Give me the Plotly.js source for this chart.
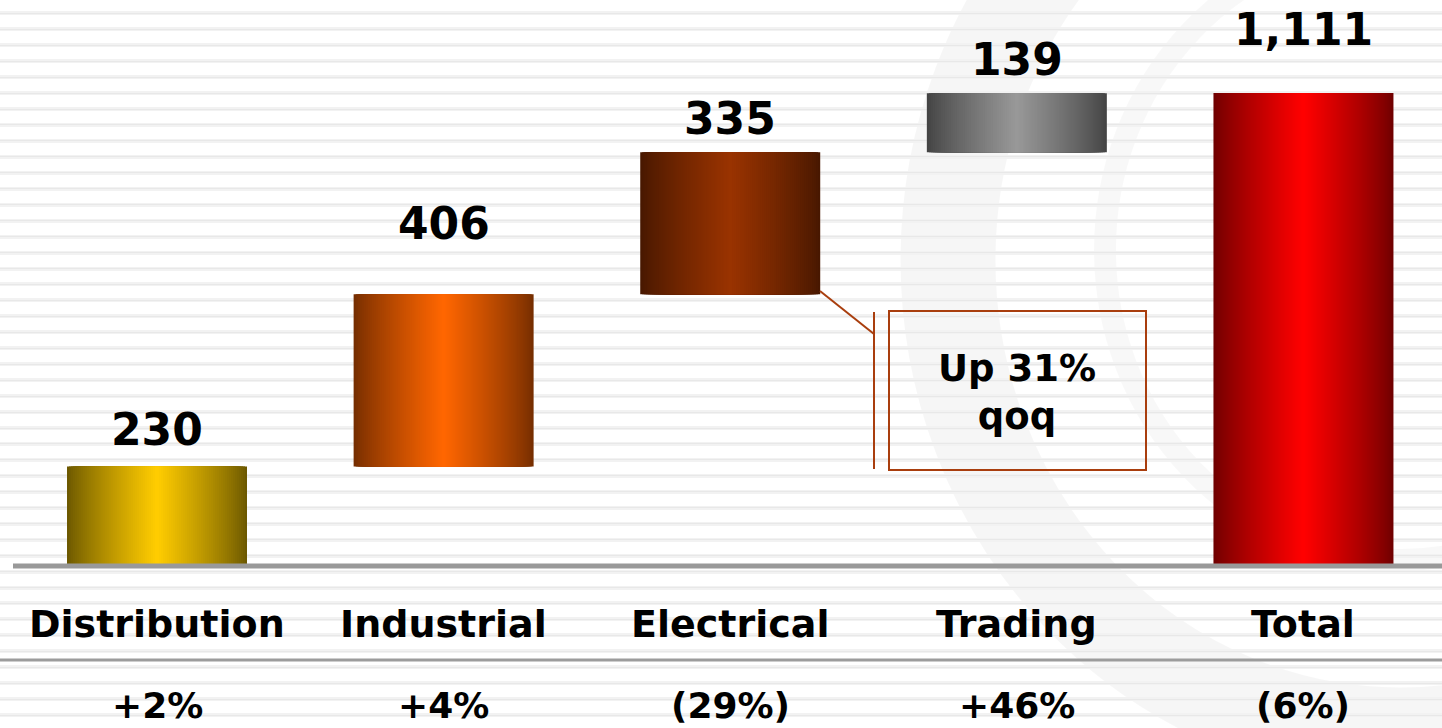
<!DOCTYPE html>
<html>
<head>
<meta charset="utf-8">
<script src="https://cdn.plot.ly/plotly-3.0.1.min.js"></script>
<style>
  html, body { margin: 0; padding: 0; background: #ffffff; }
  #chart { width: 1442px; height: 728px; }
</style>
</head>
<body>
<div id="chart"></div>
<script>
// ---- data ----
const categories = ['Distribution', 'Industrial', 'Electrical', 'Trading', 'Total'];
const values = [230, 406, 335, 139, 1111];
const changes = ['+2%', '+4%', '(29%)', '+46%', '(6%)'];
const calloutText = 'Up 31%<br>qoq';

// ---- style ----
const edgeColors = [[108, 88, 0], [118, 46, 0], [72, 24, 0], [68, 68, 68], [112, 0, 0]];
const centerColors = [[255, 204, 0], [255, 102, 0], [153, 51, 0], [152, 152, 152], [255, 0, 0]];
const labelShift = [37, 71, 34, 34, 63];
const FONT = 'DejaVu Sans, Verdana, sans-serif';
const W = 1442, H = 728;
const px = x => x / W;
const py = y => 1 - y / H;

// waterfall bases: running sum for components, zero for the total
const bases = values.map((v, i) =>
  i === values.length - 1 ? 0 : values.slice(0, i).reduce((a, b) => a + b, 0));
const tops = values.map((v, i) => bases[i] + v);
const valueLabels = values.map(v => v.toLocaleString('en-US'));

// horizontal gradient: nested, progressively narrower bars (edge colour outside, centre colour inside)
const N = 45;
const BW = 0.628;
const traces = [];
for (let i = 0; i < N; i++) {
  const k = Math.pow(i / (N - 1), 0.85);
  const cols = categories.map((c, j) => {
    const e = edgeColors[j], m = centerColors[j];
    const r = Math.round(e[0] + (m[0] - e[0]) * k);
    const g = Math.round(e[1] + (m[1] - e[1]) * k);
    const b = Math.round(e[2] + (m[2] - e[2]) * k);
    return `rgb(${r},${g},${b})`;
  });
  traces.push({
    type: 'bar',
    x: categories,
    y: values,
    base: bases,
    width: BW * (1 - i / N),
    marker: { color: cols, line: { width: 0 } },
    showlegend: false,
    hoverinfo: 'skip'
  });
}
// invisible traces to activate the background stripe axes
traces.push({ type: 'scatter', x: [], y: [], yaxis: 'y2', showlegend: false, hoverinfo: 'skip' });
traces.push({ type: 'scatter', x: [], y: [], yaxis: 'y3', showlegend: false, hoverinfo: 'skip' });

const annotations = [];
categories.forEach((c, i) => {
  annotations.push({
    xref: 'x', yref: 'y', x: c, y: tops[i], yshift: labelShift[i],
    text: valueLabels[i], showarrow: false, yanchor: 'middle',
    font: { family: FONT, size: 44, color: '#000', weight: 'bold' }
  });
  annotations.push({
    xref: 'x', yref: 'paper', x: c, y: py(624),
    text: c, showarrow: false, yanchor: 'middle',
    font: { family: FONT, size: 38, color: '#000', weight: 'bold' }
  });
  annotations.push({
    xref: 'x', yref: 'paper', x: c, y: py(705),
    text: changes[i], showarrow: false, yanchor: 'middle',
    font: { family: FONT, size: 36, color: '#000', weight: 'bold' }
  });
});
annotations.push({
  xref: 'paper', yref: 'paper', x: px(1017), y: py(392),
  text: calloutText, showarrow: false, yanchor: 'middle', xanchor: 'center',
  font: { family: FONT, size: 37, color: '#000', weight: 'bold' }
});

const calloutColor = '#a93e0e';
const shapes = [
  // faint watermark rings
  { type: 'circle', xref: 'paper', yref: 'paper', layer: 'below',
    x0: px(948), x1: px(1852), y0: py(-215), y1: py(735),
    line: { color: 'rgba(0,0,0,0.035)', width: 95 }, fillcolor: 'rgba(0,0,0,0)' },
  { type: 'circle', xref: 'paper', yref: 'paper', layer: 'below',
    x0: px(1105), x1: px(1695), y0: py(-60), y1: py(560),
    line: { color: 'rgba(0,0,0,0.028)', width: 22 }, fillcolor: 'rgba(0,0,0,0)' },
  // baseline
  { type: 'line', xref: 'paper', yref: 'paper', layer: 'above',
    x0: px(13), x1: 1, y0: py(566), y1: py(566),
    line: { color: '#999999', width: 5 } },
  // divider under category labels
  { type: 'line', xref: 'paper', yref: 'paper', layer: 'above',
    x0: 0, x1: 1, y0: py(660), y1: py(660),
    line: { color: '#9c9c9c', width: 3 } },
  // callout
  { type: 'rect', xref: 'paper', yref: 'paper', layer: 'above',
    x0: px(889), x1: px(1146), y0: py(311), y1: py(470),
    line: { color: calloutColor, width: 2 }, fillcolor: 'rgba(0,0,0,0)' },
  { type: 'line', xref: 'paper', yref: 'paper', layer: 'above',
    x0: px(874), x1: px(874), y0: py(312), y1: py(469),
    line: { color: calloutColor, width: 2 } },
  { type: 'line', xref: 'paper', yref: 'paper', layer: 'above',
    x0: px(820), x1: px(874), y0: py(291), y1: py(334),
    line: { color: calloutColor, width: 2 } }
];

const layout = {
  width: W, height: H,
  margin: { l: 0, r: 0, t: 0, b: 0, pad: 0 },
  paper_bgcolor: '#ffffff',
  plot_bgcolor: 'rgba(0,0,0,0)',
  barmode: 'overlay',
  showlegend: false,
  hovermode: false,
  xaxis: { range: [-0.5478, 4.4834], visible: false, fixedrange: true },
  yaxis: { range: [-386.8, 1330.2], visible: false, fixedrange: true },
  yaxis2: { overlaying: 'y', range: [H, 0], tick0: 13.3, dtick: 15.95,
            showgrid: true, gridcolor: '#f2f2f2', gridwidth: 4,
            showticklabels: false, zeroline: false, showline: false, ticks: '', fixedrange: true },
  yaxis3: { overlaying: 'y', range: [H, 0], tick0: 13.3, dtick: 15.95,
            showgrid: true, gridcolor: '#e8e8e8', gridwidth: 1,
            showticklabels: false, zeroline: false, showline: false, ticks: '', fixedrange: true },
  shapes: shapes,
  annotations: annotations
};

Plotly.newPlot('chart', traces, layout, { displayModeBar: false, staticPlot: true });
</script>
</body>
</html>
